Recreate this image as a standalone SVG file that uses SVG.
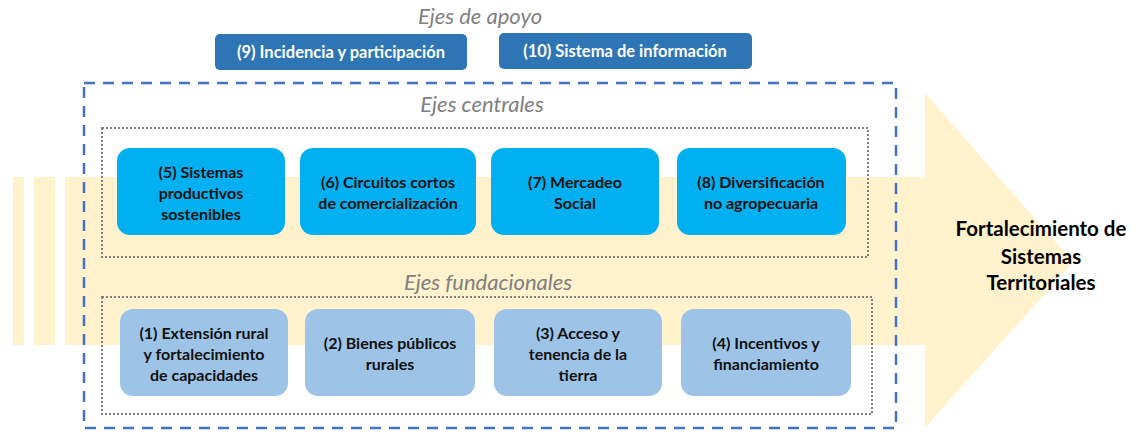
<svg xmlns="http://www.w3.org/2000/svg" width="1136" height="432" viewBox="0 0 1136 432">
<style>
.band{fill:#FFF2CC}
.lbl{font-family:Lato,"Liberation Sans",sans-serif;font-style:italic;font-size:22px;fill:#808080;text-anchor:middle}
.sup rect{fill:#2E75B6}
.sup text{font-family:Lato,"Liberation Sans",sans-serif;font-weight:bold;font-size:16.5px;fill:#FFFFFF;text-anchor:middle}
.cen rect{fill:#00B0F0}
.fun rect{fill:#9DC3E6}
.cen text,.fun text{font-family:Lato,"Liberation Sans",sans-serif;font-weight:bold;font-size:16px;fill:#111111;text-anchor:middle}
.res text{font-family:Lato,"Liberation Sans",sans-serif;font-weight:bold;font-size:20.5px;fill:#000000;text-anchor:middle}
.dash{fill:none;stroke:#4472C4;stroke-width:2.5;stroke-dasharray:11 8}
.dot{fill:none;stroke:#7F7F7F;stroke-width:2;stroke-dasharray:2 2}
</style>
<g id="arrow">
<rect class="band" x="13" y="177" width="11" height="168"/>
<rect class="band" x="34" y="177" width="21" height="168"/>
<polygon class="band" points="65,177 925,177 925,93 1073,262 925,428 925,345 65,345"/>
</g>
<g id="frames">
<rect class="dash" x="84" y="83" width="812" height="345"/>
<rect class="dot" x="102" y="128" width="766" height="129"/>
<rect class="dot" x="102" y="297" width="770" height="117"/>
</g>
<g id="labels">
<text class="lbl" x="480" y="24">Ejes de apoyo</text>
<text class="lbl" x="482" y="112">Ejes centrales</text>
<text class="lbl" x="488" y="290">Ejes fundacionales</text>
</g>
<g id="n9" class="sup"><rect x="215" y="34" width="252" height="36" rx="5"/><text x="341" y="58">(9) Incidencia y participación</text></g>
<g id="n10" class="sup"><rect x="499" y="33" width="253" height="36" rx="5"/><text x="625" y="57">(10) Sistema de información</text></g>
<g id="n5" class="cen"><rect x="117" y="148" width="168" height="87" rx="13"/><text x="201" y="178">(5) Sistemas</text><text x="201" y="199">productivos</text><text x="201" y="220">sostenibles</text></g>
<g id="n6" class="cen"><rect x="300" y="148" width="176" height="87" rx="13"/><text x="388" y="188">(6) Circuitos cortos</text><text x="388" y="209">de comercialización</text></g>
<g id="n7" class="cen"><rect x="491" y="148" width="168" height="87" rx="13"/><text x="575" y="188">(7) Mercadeo</text><text x="575" y="209">Social</text></g>
<g id="n8" class="cen"><rect x="677" y="148" width="169" height="87" rx="13"/><text x="761" y="188">(8) Diversificación</text><text x="761" y="209">no agropecuaria</text></g>
<g id="n1" class="fun"><rect x="120" y="309" width="168" height="87" rx="13"/><text x="204" y="339">(1) Extensión rural</text><text x="204" y="360">y fortalecimiento</text><text x="204" y="381">de capacidades</text></g>
<g id="n2" class="fun"><rect x="305" y="309" width="170" height="87" rx="13"/><text x="390" y="349">(2) Bienes públicos</text><text x="390" y="370">rurales</text></g>
<g id="n3" class="fun"><rect x="494" y="309" width="168" height="87" rx="13"/><text x="578" y="339">(3) Acceso y</text><text x="578" y="360">tenencia de la</text><text x="578" y="381">tierra</text></g>
<g id="n4" class="fun"><rect x="681" y="309" width="170" height="87" rx="13"/><text x="766" y="349">(4) Incentivos y</text><text x="766" y="370">financiamiento</text></g>
<g id="result" class="res"><text x="1041" y="236">Fortalecimiento de</text><text x="1041" y="264">Sistemas</text><text x="1041" y="290">Territoriales</text></g>
<g id="connectors"></g>
</svg>
